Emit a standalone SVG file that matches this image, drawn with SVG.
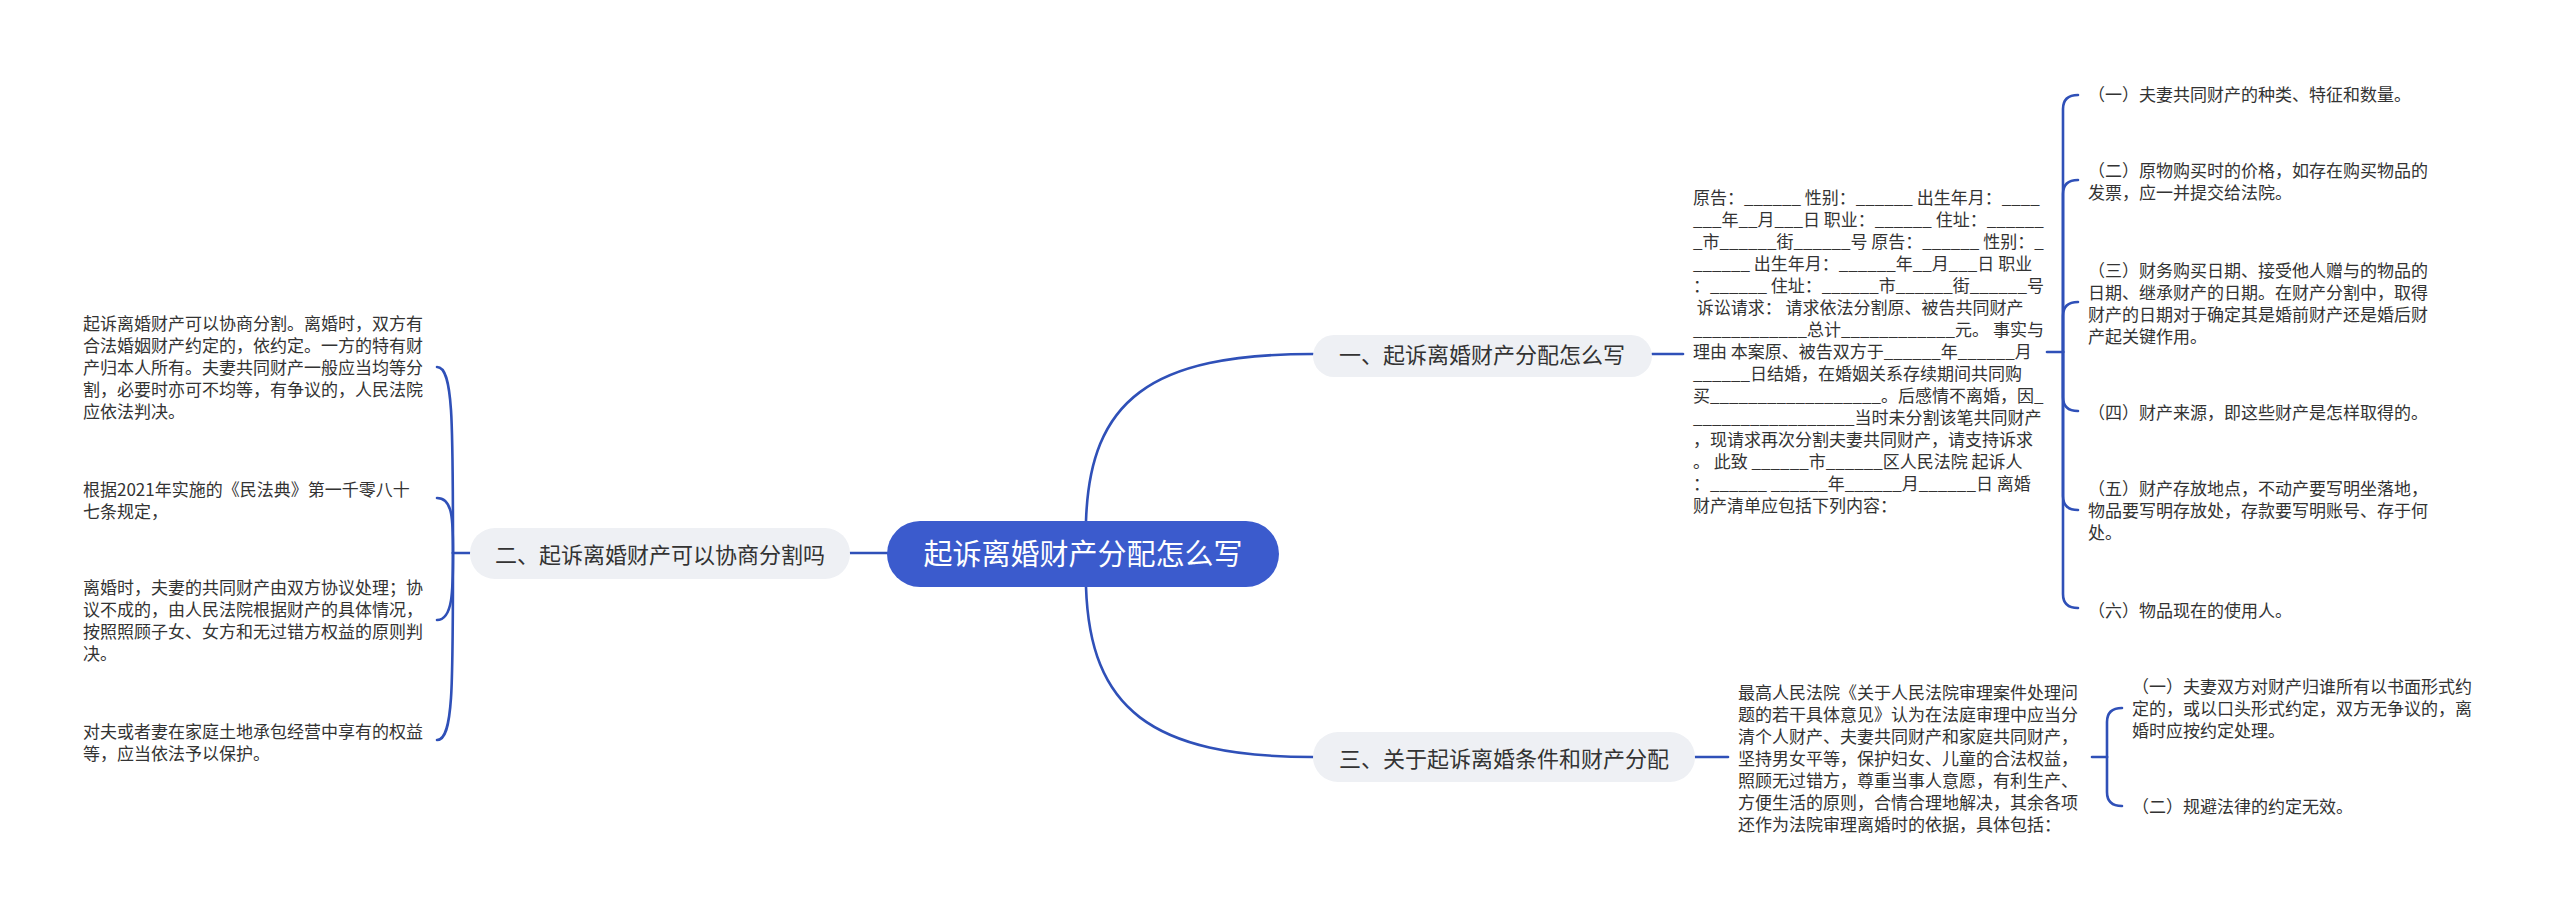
<svg xmlns="http://www.w3.org/2000/svg" width="2560" height="917" viewBox="0 0 2560 917">
<style>
.bg{fill:#ffffff}
.conn{fill:none;stroke:#2f50b8;stroke-width:2.6;stroke-linecap:round}
.root{fill:#3b5bcd}
.sub{fill:#eef0f4}
.rt{font-family:"Noto Sans CJK SC","Noto Sans",sans-serif;font-size:29px;fill:#ffffff}
.st{font-family:"Noto Sans CJK SC","Noto Sans",sans-serif;font-size:22px;fill:#333333}
.lt{font-family:"Noto Sans CJK SC","Noto Sans",sans-serif;font-size:17px;fill:#333333}
</style>
<rect class="bg" x="0" y="0" width="2560" height="917"/>
<g id="connectors">
<path class="conn" d="M1086 521 C1090 400 1150 354 1313 354"/>
<path class="conn" d="M1086 587 C1090 708 1150 757 1313 757"/>
<path class="conn" d="M887 553 L850 553"/>
<path class="conn" d="M1652 354 L1683 354"/>
<path class="conn" d="M1695 757 L1728 757"/>
<path class="conn" d="M2047 352 L2063 352"/>
<path class="conn" d="M2063 352 L2063 109 Q2063 95 2078 95"/>
<path class="conn" d="M2063 352 L2063 194 Q2063 180 2078 180"/>
<path class="conn" d="M2063 352 L2063 316 Q2063 302 2078 302"/>
<path class="conn" d="M2063 352 L2063 397 Q2063 411 2078 411"/>
<path class="conn" d="M2063 352 L2063 496 Q2063 510 2078 510"/>
<path class="conn" d="M2063 352 L2063 594 Q2063 608 2078 608"/>
<path class="conn" d="M2092 757 L2107 757"/>
<path class="conn" d="M2107 757 L2107 722 Q2107 708 2122 708"/>
<path class="conn" d="M2107 757 L2107 792 Q2107 806 2122 806"/>
<path class="conn" d="M470 553 L453 553"/>
<path class="conn" d="M453 553 C453 420 453 367 437 367"/>
<path class="conn" d="M453 553 C453 520 453 498 437 498"/>
<path class="conn" d="M453 553 C453 590 453 620 437 620"/>
<path class="conn" d="M453 553 C453 690 453 740 437 740"/>
</g>
<g id="root">
<rect class="root" x="887" y="521" width="392" height="66" rx="33"/>
<text class="rt" x="1083" y="565" text-anchor="middle">起诉离婚财产分配怎么写</text>
</g>
<g id="node1">
<rect class="sub" x="1313" y="335" width="339" height="42" rx="21"/>
<text class="st" x="1482" y="363" text-anchor="middle">一、起诉离婚财产分配怎么写</text>
</g>
<g id="node2">
<rect class="sub" x="470" y="528" width="380" height="51" rx="25"/>
<text class="st" x="660" y="563" text-anchor="middle">二、起诉离婚财产可以协商分割吗</text>
</g>
<g id="node3">
<rect class="sub" x="1313" y="732" width="382" height="50" rx="25"/>
<text class="st" x="1504" y="767" text-anchor="middle">三、关于起诉离婚条件和财产分配</text>
</g>
<g id="node1-detail">
<text class="lt" x="1693" y="204" xml:space="preserve"><tspan x="1693" y="204">原告：______ 性别：______ 出生年月：____</tspan><tspan x="1693" y="226">___年__月___日 职业：______ 住址：______</tspan><tspan x="1693" y="248">_市______街______号 原告：______ 性别：_</tspan><tspan x="1693" y="270">______ 出生年月：______年__月___日 职业</tspan><tspan x="1693" y="292">：______ 住址：______市______街______号</tspan><tspan x="1693" y="314"> 诉讼请求： 请求依法分割原、被告共同财产</tspan><tspan x="1693" y="336">____________总计____________元。 事实与</tspan><tspan x="1693" y="358">理由 本案原、被告双方于______年______月</tspan><tspan x="1693" y="380">______日结婚，在婚姻关系存续期间共同购</tspan><tspan x="1693" y="402">买__________________。后感情不离婚，因_</tspan><tspan x="1693" y="424">_________________当时未分割该笔共同财产</tspan><tspan x="1693" y="446">，现请求再次分割夫妻共同财产，请支持诉求</tspan><tspan x="1693" y="468">。 此致 ______市______区人民法院 起诉人</tspan><tspan x="1693" y="490">：______ ______年______月______日 离婚</tspan><tspan x="1693" y="512">财产清单应包括下列内容：</tspan></text>
</g>
<g id="item1-1"><text class="lt" x="2088" y="101">（一）夫妻共同财产的种类、特征和数量。</text></g>
<g id="item1-2"><text class="lt"><tspan x="2088" y="177">（二）原物购买时的价格，如存在购买物品的</tspan><tspan x="2088" y="199">发票，应一并提交给法院。</tspan></text></g>
<g id="item1-3"><text class="lt"><tspan x="2088" y="277">（三）财务购买日期、接受他人赠与的物品的</tspan><tspan x="2088" y="299">日期、继承财产的日期。在财产分割中，取得</tspan><tspan x="2088" y="321">财产的日期对于确定其是婚前财产还是婚后财</tspan><tspan x="2088" y="343">产起关键作用。</tspan></text></g>
<g id="item1-4"><text class="lt" x="2088" y="419">（四）财产来源，即这些财产是怎样取得的。</text></g>
<g id="item1-5"><text class="lt"><tspan x="2088" y="495">（五）财产存放地点，不动产要写明坐落地，</tspan><tspan x="2088" y="517">物品要写明存放处，存款要写明账号、存于何</tspan><tspan x="2088" y="539">处。</tspan></text></g>
<g id="item1-6"><text class="lt" x="2088" y="617">（六）物品现在的使用人。</text></g>
<g id="item2-1"><text class="lt"><tspan x="83" y="330">起诉离婚财产可以协商分割。离婚时，双方有</tspan><tspan x="83" y="352">合法婚姻财产约定的，依约定。一方的特有财</tspan><tspan x="83" y="374">产归本人所有。夫妻共同财产一般应当均等分</tspan><tspan x="83" y="396">割，必要时亦可不均等，有争议的，人民法院</tspan><tspan x="83" y="418">应依法判决。</tspan></text></g>
<g id="item2-2"><text class="lt"><tspan x="83" y="496">根据2021年实施的《民法典》第一千零八十</tspan><tspan x="83" y="518">七条规定，</tspan></text></g>
<g id="item2-3"><text class="lt"><tspan x="83" y="594">离婚时，夫妻的共同财产由双方协议处理；协</tspan><tspan x="83" y="616">议不成的，由人民法院根据财产的具体情况，</tspan><tspan x="83" y="638">按照照顾子女、女方和无过错方权益的原则判</tspan><tspan x="83" y="660">决。</tspan></text></g>
<g id="item2-4"><text class="lt"><tspan x="83" y="738">对夫或者妻在家庭土地承包经营中享有的权益</tspan><tspan x="83" y="760">等，应当依法予以保护。</tspan></text></g>
<g id="node3-detail"><text class="lt"><tspan x="1738" y="699">最高人民法院《关于人民法院审理案件处理问</tspan><tspan x="1738" y="721">题的若干具体意见》认为在法庭审理中应当分</tspan><tspan x="1738" y="743">清个人财产、夫妻共同财产和家庭共同财产，</tspan><tspan x="1738" y="765">坚持男女平等，保护妇女、儿童的合法权益，</tspan><tspan x="1738" y="787">照顾无过错方，尊重当事人意愿，有利生产、</tspan><tspan x="1738" y="809">方便生活的原则，合情合理地解决，其余各项</tspan><tspan x="1738" y="831">还作为法院审理离婚时的依据，具体包括：</tspan></text></g>
<g id="item3-1"><text class="lt"><tspan x="2132" y="693">（一）夫妻双方对财产归谁所有以书面形式约</tspan><tspan x="2132" y="715">定的，或以口头形式约定，双方无争议的，离</tspan><tspan x="2132" y="737">婚时应按约定处理。</tspan></text></g>
<g id="item3-2"><text class="lt" x="2132" y="813">（二）规避法律的约定无效。</text></g>
</svg>
